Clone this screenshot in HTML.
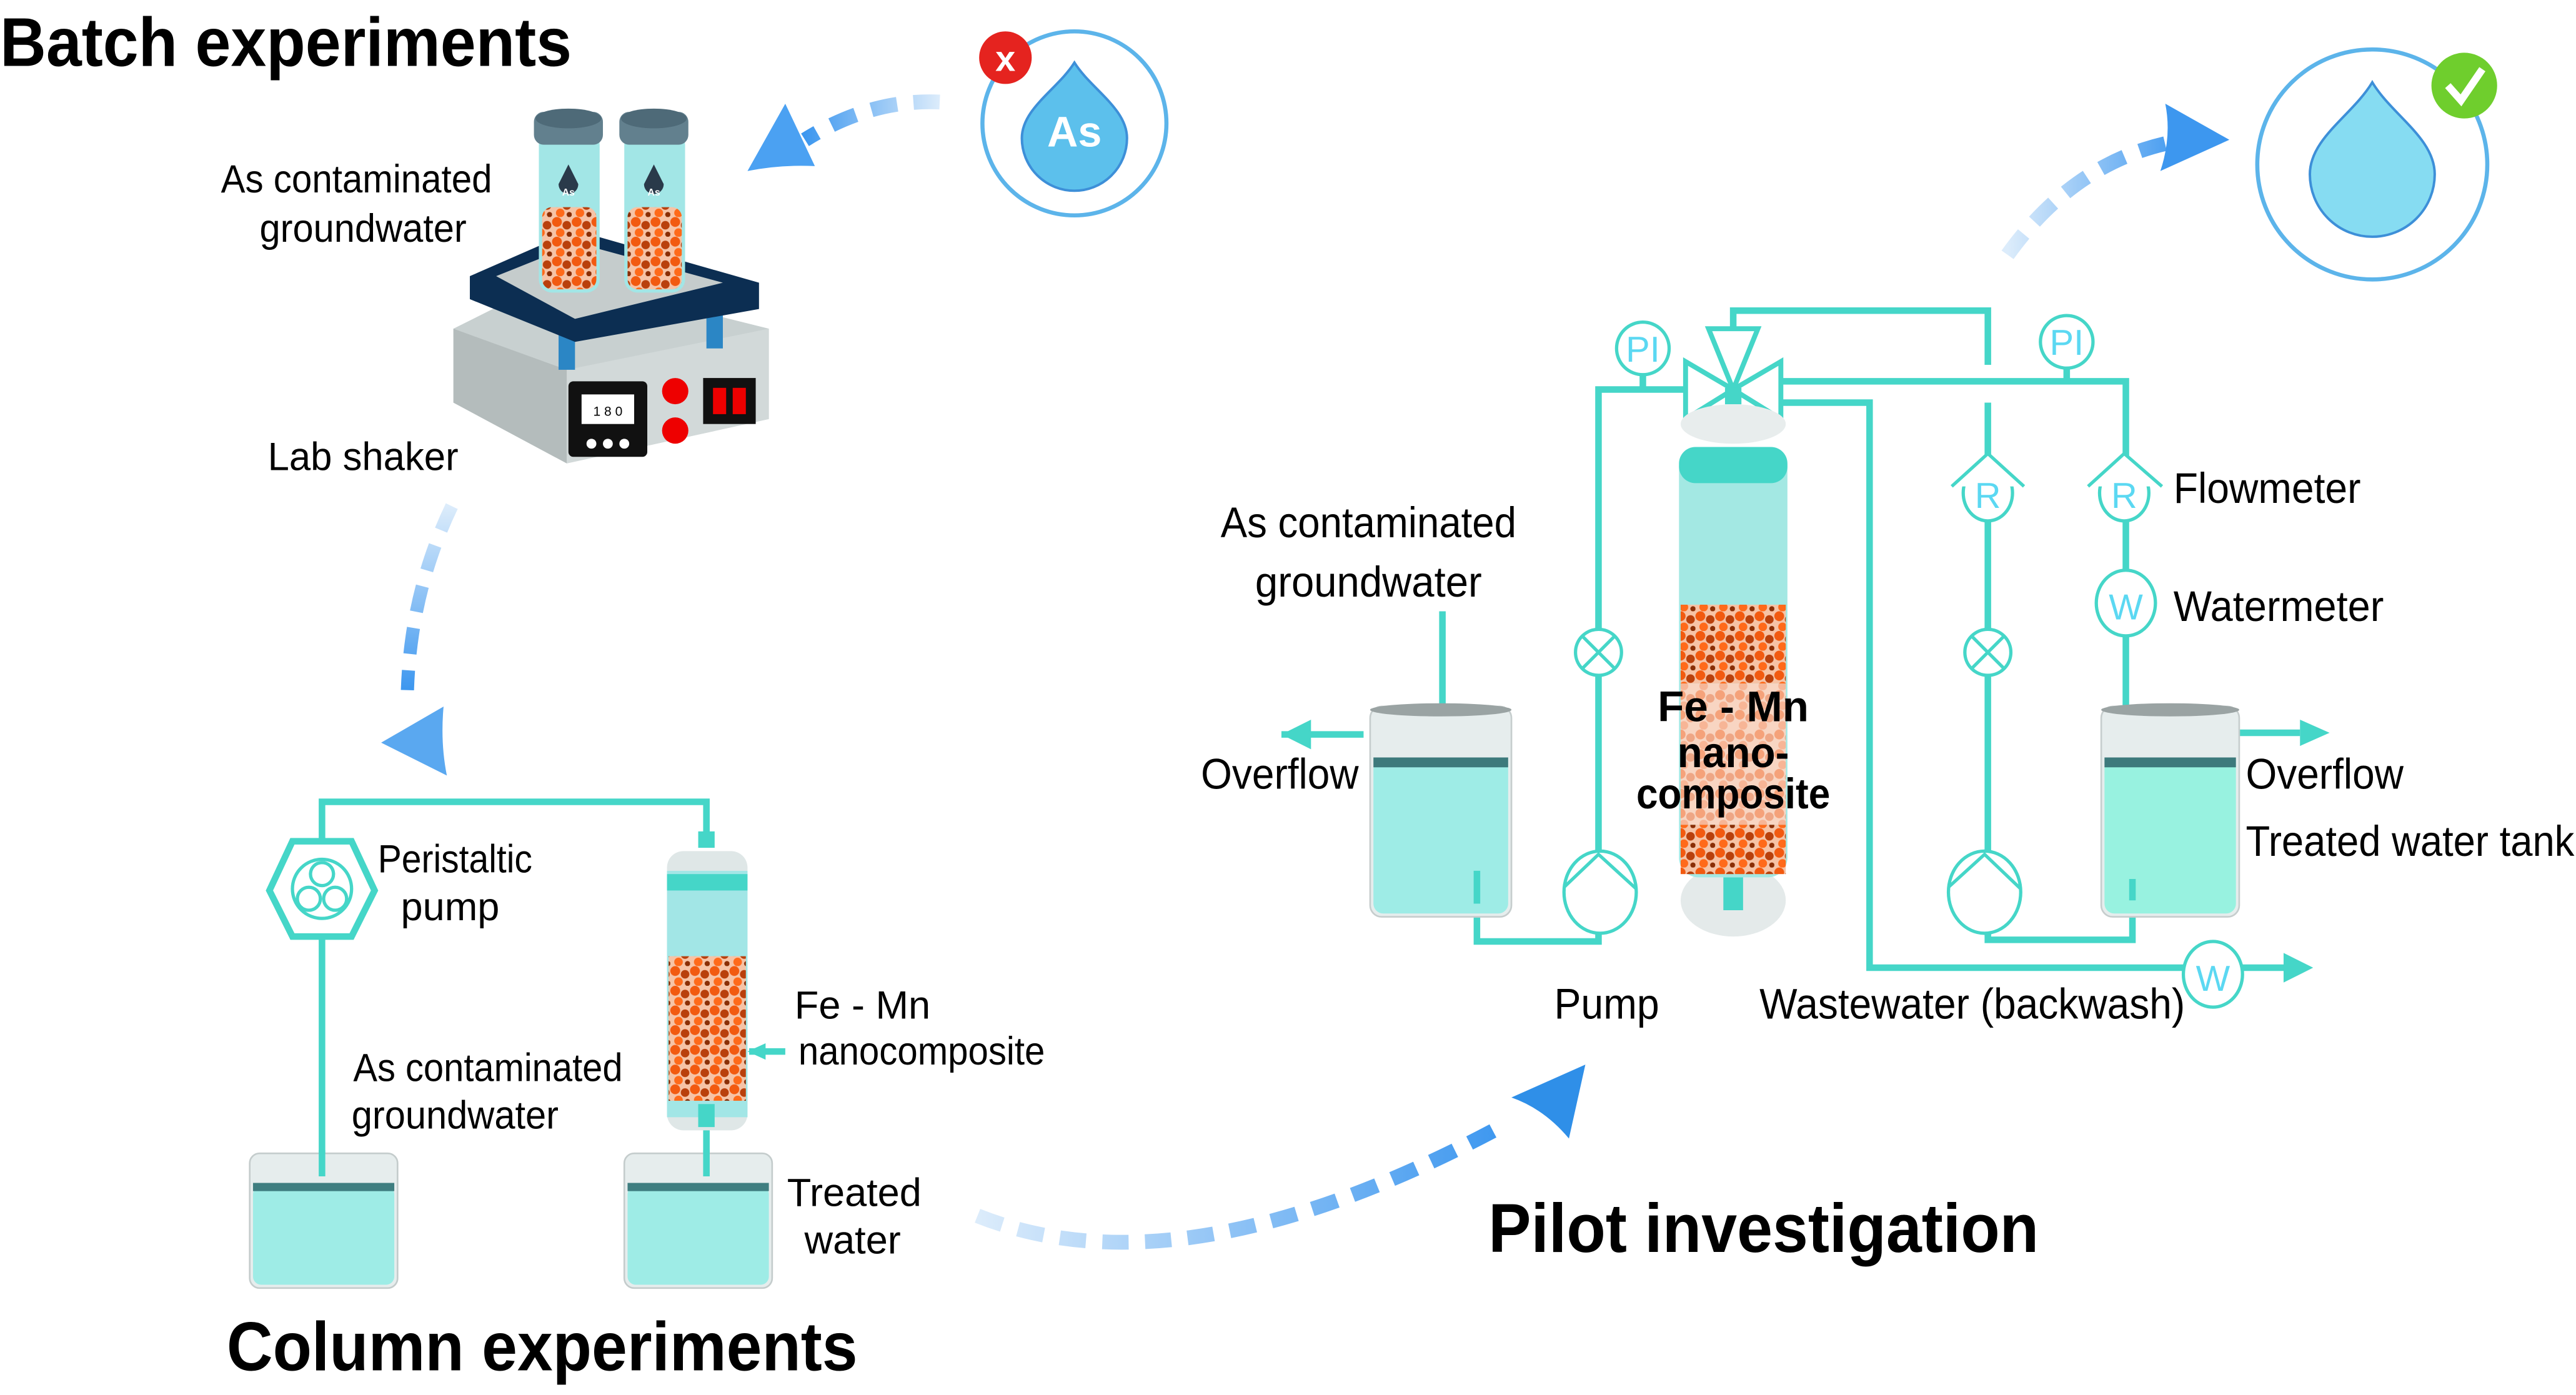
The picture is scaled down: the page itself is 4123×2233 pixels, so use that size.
<!DOCTYPE html>
<html><head><meta charset="utf-8"><style>
html,body{margin:0;padding:0;background:#fff}
svg{display:block}
text{font-family:"Liberation Sans",sans-serif}
</style></head><body>
<svg width="4123" height="2233" viewBox="0 0 1568 849" xmlns="http://www.w3.org/2000/svg">
<defs>
<linearGradient id="dg" x1="0" x2="1"><stop offset="0" stop-color="#3d97ef"/><stop offset="1" stop-color="#dcecfb"/></linearGradient>
<linearGradient id="dg2" x1="1" x2="0"><stop offset="0" stop-color="#3d97ef"/><stop offset="1" stop-color="#dcecfb"/></linearGradient>
<linearGradient id="dg3" x1="0" x2="0" y1="1" y2="0"><stop offset="0" stop-color="#3d97ef"/><stop offset="1" stop-color="#dcecfb"/></linearGradient>
<pattern id="beads" width="12" height="12" patternUnits="userSpaceOnUse">
<rect width="12" height="12" fill="#f6c3a6"/>
<circle cx="3" cy="3" r="3" fill="#f25a10"/><circle cx="9" cy="5" r="2.6" fill="#b9400c"/><circle cx="5" cy="9.5" r="2.6" fill="#ff6a1a"/><circle cx="10.5" cy="10.5" r="1.6" fill="#8a2e05"/>
</pattern>
<pattern id="beads2" width="12" height="12" patternUnits="userSpaceOnUse">
<rect width="12" height="12" fill="#f8d5c2"/>
<circle cx="3" cy="3" r="3" fill="#f5a27a"/><circle cx="9" cy="5" r="2.6" fill="#eea685"/><circle cx="5" cy="9.5" r="2.6" fill="#f7b596"/>
</pattern>
</defs>

<text x="0" y="40" font-size="42" font-weight="bold" textLength="348" lengthAdjust="spacingAndGlyphs">Batch experiments</text>
<text x="138" y="834" font-size="42" font-weight="bold" textLength="384" lengthAdjust="spacingAndGlyphs">Column experiments</text>
<text x="906" y="762" font-size="42" font-weight="bold" textLength="335" lengthAdjust="spacingAndGlyphs">Pilot investigation</text>

<circle cx="654" cy="75" r="56" fill="#fff" stroke="#5cb4ea" stroke-width="2.5"/>
<path d="M654 38 C664 54 686 66 686 84 A32 32 0 0 1 622 84 C622 66 644 54 654 38Z" fill="#5cc0ec" stroke="#3d8fd8" stroke-width="1.5"/>
<text x="654" y="89" font-size="26" font-weight="bold" fill="#fff" text-anchor="middle">As</text>
<circle cx="612" cy="35" r="16" fill="#e5231f"/>
<text x="612" y="43" font-size="22" font-weight="bold" fill="#fff" text-anchor="middle">x</text>

<circle cx="1444" cy="100" r="70" fill="#fff" stroke="#5cb4ea" stroke-width="2.5"/>
<path d="M1444 50 C1456 70 1482 84 1482 106 A38 38 0 0 1 1406 106 C1406 84 1432 70 1444 50Z" fill="#86dcf2" stroke="#3d8fd8" stroke-width="1.5"/>
<circle cx="1500" cy="52" r="20" fill="#6fce2d"/>
<path d="M1490 52 L1498 61 L1511 42" fill="none" stroke="#fff" stroke-width="4.5"/>

<path d="M572 62 Q530 60 490 85" fill="none" stroke="url(#dg)" stroke-width="9" stroke-dasharray="16 10"/>
<path d="M478 63 L455 104 Q475 100 496 101 Z" fill="#4ba1f2"/>
<path d="M275 308 Q250 360 248 420" fill="none" stroke="url(#dg3)" stroke-width="8" stroke-dasharray="16 10"/>
<path d="M232 452 L272 472 Q268 452 270 430 Z" fill="#5aa8f0"/>
<path d="M595 740 Q720 790 915 685" fill="none" stroke="url(#dg2)" stroke-width="9" stroke-dasharray="16 10"/>
<path d="M965 648 L920 668 Q940 675 955 693 Z" fill="#2f8fe8"/>
<path d="M1222 155 Q1265 95 1330 85" fill="none" stroke="url(#dg2)" stroke-width="9" stroke-dasharray="16 10"/>
<path d="M1357 85 L1318 63 Q1322 83 1315 104 Z" fill="#3d97ef"/>

<polygon points="276,200 340,168 468,200 468,255 345,282 276,245" fill="#c8d0d0"/>
<polygon points="276,200 345,225 345,282 276,245" fill="#b4bcbc"/>
<polygon points="345,225 468,200 468,255 345,282" fill="#d2d9d9"/>
<rect x="340" y="195" width="10" height="30" fill="#2b86c5"/>
<rect x="430" y="188" width="10" height="24" fill="#2b86c5"/>
<polygon points="286,168 350,140 462,172 462,188 350,208 286,182" fill="#0c2e52"/>
<polygon points="302,168 352,148 440,172 350,194" fill="#c5cccc"/>
<rect x="346" y="232" width="48" height="46" rx="3" fill="#111"/>
<rect x="354" y="240" width="32" height="18" fill="#fff"/>
<text x="370" y="253" font-size="8" text-anchor="middle">1 8 0</text>
<circle cx="360" cy="270" r="3" fill="#fff"/><circle cx="370" cy="270" r="3" fill="#fff"/><circle cx="380" cy="270" r="3" fill="#fff"/>
<circle cx="411" cy="238" r="8" fill="#e00"/><circle cx="411" cy="262" r="8" fill="#e00"/>
<rect x="428" y="230" width="32" height="28" fill="#111"/><rect x="434" y="236" width="8" height="16" fill="#e00"/><rect x="446" y="236" width="8" height="16" fill="#e00"/>
<g>
<rect x="328" y="80" width="37" height="98" rx="8" fill="#a2e6e6"/>
<rect x="330" y="126" width="33" height="50" rx="6" fill="url(#beads)"/>
<rect x="325" y="68" width="42" height="20" rx="6" fill="#62808e"/>
<ellipse cx="346" cy="72" rx="20" ry="6" fill="#4e6a78"/>
<path d="M346 100 L352 112 A6 6 0 0 1 340 112 Z" fill="#2a3a4a"/>
<text x="346" y="119" font-size="6" font-weight="bold" fill="#fff" text-anchor="middle">As</text>
<rect x="380" y="80" width="37" height="98" rx="8" fill="#a2e6e6"/>
<rect x="382" y="126" width="33" height="50" rx="6" fill="url(#beads)"/>
<rect x="377" y="68" width="42" height="20" rx="6" fill="#62808e"/>
<ellipse cx="398" cy="72" rx="20" ry="6" fill="#4e6a78"/>
<path d="M398 100 L404 112 A6 6 0 0 1 392 112 Z" fill="#2a3a4a"/>
<text x="398" y="119" font-size="6" font-weight="bold" fill="#fff" text-anchor="middle">As</text>
</g>
<text x="217" y="117" font-size="24" text-anchor="middle" textLength="165" lengthAdjust="spacingAndGlyphs">As contaminated</text>
<text x="221" y="147" font-size="24" text-anchor="middle" textLength="126" lengthAdjust="spacingAndGlyphs">groundwater</text>
<text x="221" y="286" font-size="24" text-anchor="middle" textLength="116" lengthAdjust="spacingAndGlyphs">Lab  shaker</text>

<g stroke="#45d6c8" stroke-width="4" fill="none">
<path d="M196 715 V488 H430 V508"/>
<path d="M430 680 V712"/>
<path d="M456 640 H478"/>
</g>
<polygon points="178,512 214,512 228,542 214,570 178,570 164,542" fill="#fff" stroke="#45d6c8" stroke-width="4"/>
<circle cx="196" cy="541" r="18" fill="#fff" stroke="#45d6c8" stroke-width="2"/>
<circle cx="196" cy="532" r="7" fill="none" stroke="#45d6c8" stroke-width="2"/>
<circle cx="188" cy="547" r="7" fill="none" stroke="#45d6c8" stroke-width="2"/>
<circle cx="204" cy="547" r="7" fill="none" stroke="#45d6c8" stroke-width="2"/>
<polygon points="455,640 466,635 466,645" fill="#45d6c8"/>
<rect x="406" y="518" width="49" height="170" rx="10" fill="#dfe7e7"/>
<rect x="406" y="530" width="49" height="150" fill="#a2e6e6"/>
<rect x="406" y="532" width="49" height="10" fill="#45d6c8"/>
<rect x="407" y="582" width="47" height="88" fill="url(#beads)"/>
<rect x="425" y="506" width="10" height="10" fill="#45d6c8"/>
<rect x="425" y="672" width="10" height="14" fill="#45d6c8"/>
<text x="277" y="531" font-size="24" text-anchor="middle" textLength="94" lengthAdjust="spacingAndGlyphs">Peristaltic</text>
<text x="274" y="560" font-size="24" text-anchor="middle">pump</text>
<text x="525" y="620" font-size="24" text-anchor="middle">Fe - Mn</text>
<text x="561" y="648" font-size="24" text-anchor="middle" textLength="150" lengthAdjust="spacingAndGlyphs">nanocomposite</text>
<text x="297" y="658" font-size="24" text-anchor="middle" textLength="164" lengthAdjust="spacingAndGlyphs">As contaminated</text>
<text x="277" y="687" font-size="24" text-anchor="middle" textLength="126" lengthAdjust="spacingAndGlyphs">groundwater</text>
<text x="520" y="734" font-size="24" text-anchor="middle">Treated</text>
<text x="519" y="763" font-size="24" text-anchor="middle">water</text>
<g>
<rect x="152" y="702" width="90" height="82" rx="6" fill="#e6eded" stroke="#c4cccc"/>
<rect x="154" y="722" width="86" height="60" rx="5" fill="#9eece6"/>
<rect x="154" y="720" width="86" height="5" fill="#3f7e80"/>
<rect x="380" y="702" width="90" height="82" rx="6" fill="#e6eded" stroke="#c4cccc"/>
<rect x="382" y="722" width="86" height="60" rx="5" fill="#9eece6"/>
<rect x="382" y="720" width="86" height="5" fill="#3f7e80"/>
</g>
<path d="M196 700 V716 M430 700 V716" stroke="#45d6c8" stroke-width="4"/>

<g stroke="#45d6c8" stroke-width="4" fill="none">
<path d="M973 540 V237 H1028"/>
<path d="M1055 210 V189 H1210 V222"/>
<path d="M1210 245 V572 H1298 V545"/>
<path d="M1082 232 H1294 V452"/>
<path d="M1082 245 H1138 V589 H1335"/>
<path d="M1365 589 H1392"/>
<path d="M899 548 V573 H973 V565"/>
<path d="M1000 237 V228 M1258 232 V222"/>
<path d="M878 372 V440"/>
<path d="M1350 446 H1400"/>
<path d="M780 447 H830"/>
</g>
<polygon points="1408,589 1390,580 1390,598" fill="#45d6c8"/>
<polygon points="1418,446 1400,438 1400,454" fill="#45d6c8"/>
<polygon points="780,447 798,438 798,456" fill="#45d6c8"/>
<polygon points="878,452 871,436 885,436" fill="#45d6c8"/>
<polygon points="1294,452 1287,438 1301,438" fill="#45d6c8"/>
<g stroke="#45d6c8" stroke-width="3" fill="#fff">
<polygon points="1026,220 1055,237 1026,255"/>
<polygon points="1084,220 1055,237 1084,255"/>
<polygon points="1040,200 1070,200 1055,237"/>
</g>
<rect x="1050" y="236" width="10" height="10" fill="#45d6c8"/>
<ellipse cx="1055" cy="258" rx="32" ry="12" fill="#e8eded"/>
<ellipse cx="1055" cy="548" rx="32" ry="22" fill="#e4eaea"/>
<rect x="1022" y="272" width="66" height="262" rx="12" fill="#a3e8e3"/>
<rect x="1022" y="272" width="66" height="22" rx="10" fill="#45d6c8"/>
<rect x="1023" y="368" width="64" height="48" fill="url(#beads)"/>
<rect x="1023" y="416" width="64" height="86" fill="url(#beads2)"/>
<rect x="1023" y="502" width="64" height="30" fill="url(#beads)"/>
<rect x="1049" y="534" width="12" height="20" fill="#45d6c8"/>
<text x="1055" y="439" font-size="26" font-weight="bold" text-anchor="middle" textLength="92" lengthAdjust="spacingAndGlyphs">Fe - Mn</text>
<text x="1055" y="467" font-size="26" font-weight="bold" text-anchor="middle" textLength="68" lengthAdjust="spacingAndGlyphs">nano-</text>
<text x="1055" y="492" font-size="26" font-weight="bold" text-anchor="middle" textLength="118" lengthAdjust="spacingAndGlyphs">composite</text>
<g stroke="#45d6c8" stroke-width="2" fill="#fff">
<ellipse cx="1000" cy="212" rx="16" ry="16"/>
<ellipse cx="1258" cy="208" rx="16" ry="16"/>
<ellipse cx="1210" cy="300" rx="15" ry="17"/>
<ellipse cx="1293" cy="300" rx="15" ry="17"/>
<ellipse cx="1294" cy="367" rx="18" ry="20"/>
<ellipse cx="1347" cy="593" rx="18" ry="20"/>
<circle cx="973" cy="397" r="14"/><circle cx="1210" cy="397" r="14"/>
<path d="M963 387 L983 407 M983 387 L963 407 M1200 387 L1220 407 M1220 387 L1200 407"/>
<ellipse cx="974" cy="543" rx="22" ry="25"/><ellipse cx="1208" cy="543" rx="22" ry="25"/>
<path d="M952 540 L973 520 L996 541 M1186 540 L1208 520 L1230 541" />
<path d="M1188 296 L1210 276 L1232 296 M1271 296 L1293 276 L1316 296"/>
</g>
<g fill="#5bd8f2" font-size="22" text-anchor="middle">
<text x="1000" y="220">PI</text><text x="1258" y="216">PI</text>
<text x="1210" y="309">R</text><text x="1293" y="309">R</text>
<text x="1294" y="377">W</text><text x="1347" y="603">W</text>
</g>
<rect x="834" y="430" width="86" height="128" rx="7" fill="#e6eded" stroke="#c6cdcd"/>
<ellipse cx="877" cy="432" rx="43" ry="4" fill="#9aa3a3"/>
<rect x="836" y="462" width="82" height="94" rx="6" fill="#9eece6"/>
<rect x="836" y="461" width="82" height="6" fill="#3d7a7c"/>
<rect x="1279" y="430" width="84" height="128" rx="7" fill="#e6eded" stroke="#c6cdcd"/>
<ellipse cx="1321" cy="432" rx="42" ry="4" fill="#9aa3a3"/>
<rect x="1281" y="462" width="80" height="94" rx="6" fill="#98f2e0"/>
<rect x="1281" y="461" width="80" height="6" fill="#3d7a7c"/>
<path d="M899 530 V550 M1298 535 V548" stroke="#45d6c8" stroke-width="4"/>
<g font-size="26">
<text x="833" y="327" text-anchor="middle" textLength="180" lengthAdjust="spacingAndGlyphs">As contaminated</text>
<text x="833" y="363" text-anchor="middle" textLength="138" lengthAdjust="spacingAndGlyphs">groundwater</text>
<text x="731" y="480" textLength="96" lengthAdjust="spacingAndGlyphs">Overflow</text>
<text x="1367" y="480" textLength="96" lengthAdjust="spacingAndGlyphs">Overflow</text>
<text x="1367" y="521" textLength="200" lengthAdjust="spacingAndGlyphs">Treated water tank</text>
<text x="1323" y="306" textLength="114" lengthAdjust="spacingAndGlyphs">Flowmeter</text>
<text x="1323" y="378" textLength="128" lengthAdjust="spacingAndGlyphs">Watermeter</text>
<text x="946" y="620" textLength="64" lengthAdjust="spacingAndGlyphs">Pump</text>
<text x="1071" y="620" textLength="259" lengthAdjust="spacingAndGlyphs">Wastewater (backwash)</text>
</g>
</svg>
</body></html>
